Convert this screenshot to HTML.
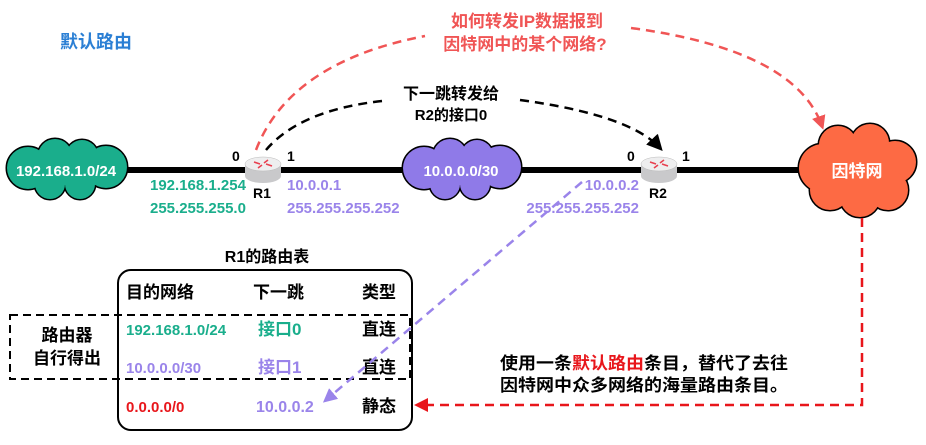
<!DOCTYPE html>
<html><head><meta charset="utf-8"><style>
body{margin:0;background:#fff}
svg{display:block}
text{font-family:"Liberation Sans","Noto Sans CJK SC",sans-serif;font-weight:bold}
</style></head><body>
<svg width="926" height="445" viewBox="0 0 926 445" xmlns="http://www.w3.org/2000/svg">
<defs>
<marker id="ar" markerWidth="14" markerHeight="14" refX="10" refY="7" orient="auto" markerUnits="userSpaceOnUse"><path d="M0,0 L14,7 L0,14 z" fill="#f05555"/></marker>
<marker id="ar2" markerWidth="14" markerHeight="14" refX="10" refY="7" orient="auto" markerUnits="userSpaceOnUse"><path d="M0,0 L14,7 L0,14 z" fill="#e8161b"/></marker>
<marker id="ap" markerWidth="14" markerHeight="14" refX="10" refY="7" orient="auto" markerUnits="userSpaceOnUse"><path d="M0,0 L14,7 L0,14 z" fill="#9a84ea"/></marker>
<marker id="ak" markerWidth="16" markerHeight="16" refX="12" refY="8" orient="auto" markerUnits="userSpaceOnUse"><path d="M0,0 L16,8 L0,16 z" fill="#000"/></marker>
</defs>

<text x="60" y="48" font-size="18" fill="#2b7fd4">默认路由</text>

<line x1="120" y1="170" x2="800" y2="170" stroke="#000" stroke-width="6"/>

<!-- cloud 1 -->
<g stroke="#000" stroke-width="3">
<circle cx="28" cy="168" r="21"/><circle cx="55" cy="156" r="17"/><circle cx="82" cy="156" r="16"/><circle cx="106" cy="167" r="21"/><circle cx="80" cy="184" r="15"/><circle cx="50" cy="184" r="15"/>
</g>
<g fill="#1aae8c">
<circle cx="28" cy="168" r="21"/><circle cx="55" cy="156" r="17"/><circle cx="82" cy="156" r="16"/><circle cx="106" cy="167" r="21"/><circle cx="80" cy="184" r="15"/><circle cx="50" cy="184" r="15"/><rect x="28" y="155" width="78" height="30"/>
</g>
<text x="66" y="176" font-size="15" fill="#fff" text-anchor="middle">192.168.1.0/24</text>

<!-- cloud 2 -->
<g stroke="#000" stroke-width="3">
<circle cx="424" cy="168" r="21"/><circle cx="450" cy="156" r="17"/><circle cx="477" cy="156" r="16"/><circle cx="500" cy="167" r="21"/><circle cx="475" cy="184" r="15"/><circle cx="445" cy="184" r="15"/>
</g>
<g fill="#8f7ae8">
<circle cx="424" cy="168" r="21"/><circle cx="450" cy="156" r="17"/><circle cx="477" cy="156" r="16"/><circle cx="500" cy="167" r="21"/><circle cx="475" cy="184" r="15"/><circle cx="445" cy="184" r="15"/><rect x="424" y="155" width="76" height="30"/>
</g>
<text x="461" y="176" font-size="15" fill="#fff" text-anchor="middle">10.0.0.0/30</text>

<!-- cloud 3 -->
<g stroke="#000" stroke-width="3">
<circle cx="823" cy="168" r="24"/><circle cx="838" cy="145" r="19"/><circle cx="870" cy="143" r="19"/><circle cx="895" cy="162" r="21"/><circle cx="888" cy="190" r="20"/><circle cx="860" cy="197" r="20"/><circle cx="830" cy="190" r="20"/>
</g>
<g fill="#fd6a44">
<circle cx="823" cy="168" r="24"/><circle cx="838" cy="145" r="19"/><circle cx="870" cy="143" r="19"/><circle cx="895" cy="162" r="21"/><circle cx="888" cy="190" r="20"/><circle cx="860" cy="197" r="20"/><circle cx="830" cy="190" r="20"/><rect x="825" y="145" width="65" height="50"/>
</g>
<text x="857" y="177" font-size="17" fill="#fff" text-anchor="middle">因特网</text>

<!-- routers -->
<g>
<path d="M245,164 L245,176 A18,7 0 0 0 281,176 L281,164 z" fill="#c9c9cb"/>
<ellipse cx="263" cy="164" rx="18" ry="7" fill="#eeeeef" stroke="#bbb" stroke-width="0.5"/>
<path d="M254,162 l6,2 M272,166 l-6,-2 M258,168 l4,-3 M268,160 l-4,3" stroke="#e84050" stroke-width="1.6"/>
</g>
<g>
<path d="M641,164 L641,176 A18,7 0 0 0 677,176 L677,164 z" fill="#c9c9cb"/>
<ellipse cx="659" cy="164" rx="18" ry="7" fill="#eeeeef" stroke="#bbb" stroke-width="0.5"/>
<path d="M650,162 l6,2 M668,166 l-6,-2 M654,168 l4,-3 M664,160 l-4,3" stroke="#e84050" stroke-width="1.6"/>
</g>

<g font-size="14" fill="#000">
<text x="232" y="161">0</text><text x="287" y="161">1</text>
<text x="253" y="198">R1</text>
<text x="627" y="161">0</text><text x="682" y="161">1</text>
<text x="649" y="198">R2</text>
</g>
<g font-size="15">
<text x="150" y="190" fill="#1aae8c">192.168.1.254</text>
<text x="150" y="213" fill="#1aae8c">255.255.255.0</text>
<text x="287" y="190" fill="#9a84ea">10.0.0.1</text>
<text x="287" y="213" fill="#9a84ea">255.255.255.252</text>
<text x="639" y="190" fill="#9a84ea" text-anchor="end">10.0.0.2</text>
<text x="639" y="213" fill="#9a84ea" text-anchor="end">255.255.255.252</text>
</g>

<!-- red question -->
<text x="527" y="27" font-size="17" fill="#f05555" text-anchor="middle">如何转发IP数据报到</text>
<text x="525" y="50" font-size="17" fill="#f05555" text-anchor="middle">因特网中的某个网络?</text>
<path d="M256,150 Q290,62 425,36" fill="none" stroke="#f05555" stroke-width="2.5" stroke-dasharray="9,6"/>
<path d="M631,28 Q795,50 822,126" fill="none" stroke="#f05555" stroke-width="2.5" stroke-dasharray="9,6" marker-end="url(#ar)"/>

<!-- black next hop -->
<text x="451" y="99" font-size="16" fill="#000" text-anchor="middle">下一跳转发给</text>
<text x="451" y="120" font-size="15" fill="#000" text-anchor="middle">R2的接口0</text>
<path d="M266,150 Q300,110 382,101" fill="none" stroke="#000" stroke-width="2.5" stroke-dasharray="9,6"/>
<path d="M520,100 Q630,115 660,148" fill="none" stroke="#000" stroke-width="2.5" stroke-dasharray="9,6" marker-end="url(#ak)"/>

<!-- table -->
<text x="267" y="262" font-size="16" fill="#000" text-anchor="middle">R1的路由表</text>
<rect x="118" y="270" width="294" height="160" rx="13" fill="none" stroke="#000" stroke-width="2"/>
<rect x="10" y="315" width="400" height="64" fill="none" stroke="#000" stroke-width="2" stroke-dasharray="8,5"/>
<text x="67" y="341" font-size="17" fill="#000" text-anchor="middle">路由器</text>
<text x="67" y="364" font-size="17" fill="#000" text-anchor="middle">自行得出</text>
<g font-size="17">
<text x="126" y="298" fill="#000">目的网络</text>
<text x="253" y="298" fill="#000">下一跳</text>
<text x="362" y="298" fill="#000">类型</text>
<text x="126" y="335" fill="#1aae8c" font-size="15">192.168.1.0/24</text>
<text x="258" y="335" fill="#1aae8c">接口0</text>
<text x="362" y="335" fill="#000">直连</text>
<text x="126" y="373" fill="#9a84ea" font-size="15">10.0.0.0/30</text>
<text x="258" y="373" fill="#9a84ea">接口1</text>
<text x="362" y="373" fill="#000">直连</text>
<text x="126" y="412" fill="#e8161b" font-size="15">0.0.0.0/0</text>
<text x="256" y="412" fill="#9a84ea" font-size="16">10.0.0.2</text>
<text x="362" y="412" fill="#000">静态</text>
</g>

<path d="M582,182 L326,400" fill="none" stroke="#9a84ea" stroke-width="2.5" stroke-dasharray="9,6" marker-end="url(#ap)"/>

<path d="M862,218 L862,405 L418,405" fill="none" stroke="#e8161b" stroke-width="2.5" stroke-dasharray="9,6" marker-end="url(#ar2)"/>

<text x="500" y="369" font-size="17" fill="#000" textLength="288" lengthAdjust="spacingAndGlyphs">使用一条<tspan fill="#e8161b">默认路由</tspan>条目，替代了去往</text>
<text x="500" y="391" font-size="17" fill="#000" textLength="288" lengthAdjust="spacingAndGlyphs">因特网中众多网络的海量路由条目。</text>
</svg>
</body></html>
